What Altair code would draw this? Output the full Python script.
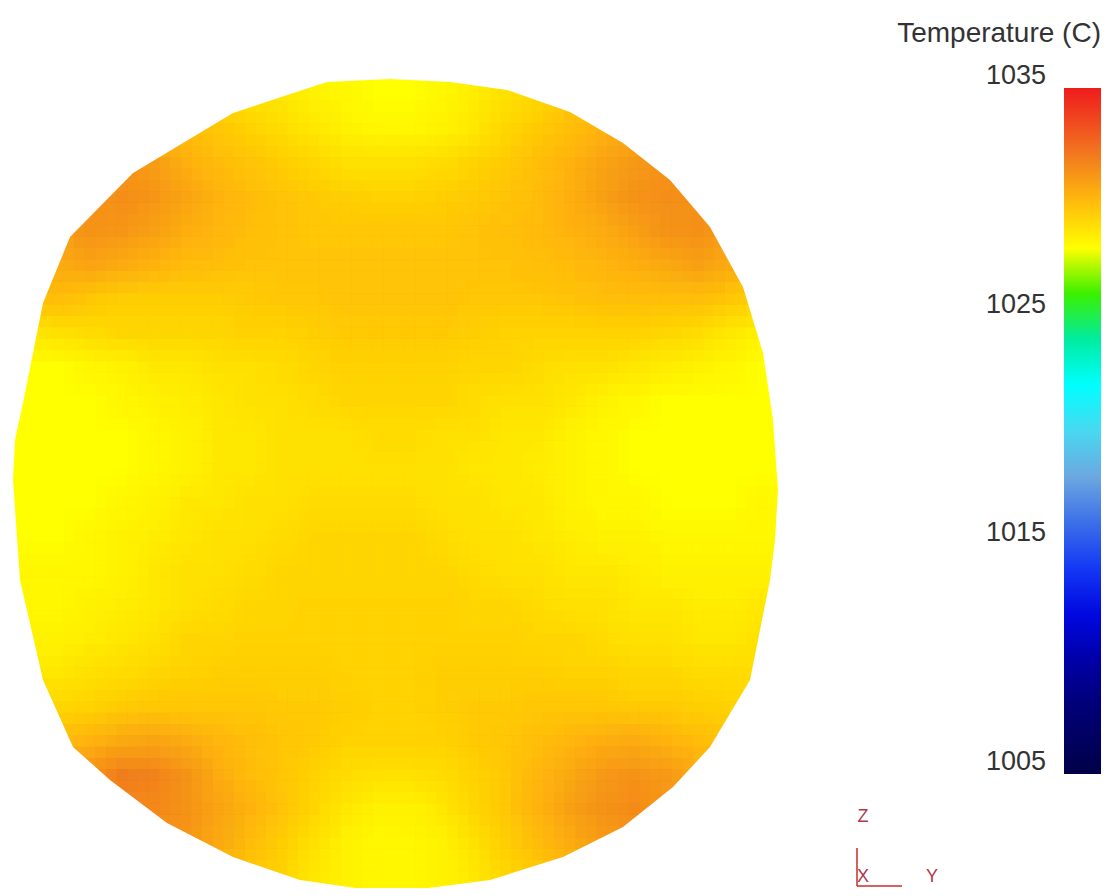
import altair as alt
import pandas as pd

# ---------------- data ----------------
# temperature (deg C) on a 24 x 24 grid covering the disk's bounding box, top row first
temps = [
    [1029.3]*6 + [1029.3, 1029.1, 1029.0, 1028.8, 1028.7, 1028.6, 1028.6, 1028.7, 1028.9, 1029.1, 1029.3, 1029.6] + [1029.6]*6,
    [1029.8]*5 + [1029.9, 1029.7, 1029.4, 1029.2, 1029.0, 1028.8, 1028.7, 1028.7, 1028.8, 1029.0, 1029.3, 1029.6, 1029.9, 1030.2, 1030.5] + [1030.5]*4,
    [1031.0]*3 + [1031.0, 1030.8, 1030.3, 1030.0, 1029.8, 1029.5, 1029.3, 1029.1, 1029.1, 1029.1, 1029.2, 1029.4, 1029.6, 1029.9, 1030.2, 1030.6, 1030.9, 1031.1] + [1031.1]*3,
    [1031.1]*2 + [1031.1, 1031.3, 1031.0, 1030.6, 1030.2, 1030.0, 1029.8, 1029.6, 1029.5, 1029.4, 1029.4, 1029.5, 1029.6, 1029.8, 1030.0, 1030.3, 1030.7, 1031.1, 1031.3, 1031.2] + [1031.2]*2,
    [1030.8, 1030.8, 1031.1, 1031.0, 1030.7, 1030.3, 1030.1, 1029.9, 1029.8, 1029.7, 1029.7, 1029.7, 1029.7, 1029.7, 1029.8, 1029.9, 1030.0, 1030.2, 1030.4, 1030.7, 1031.1, 1031.2, 1030.8, 1030.8],
    [1030.2, 1030.4, 1030.6, 1030.4, 1030.2, 1030.0, 1029.9, 1029.8, 1029.8, 1029.8, 1029.8, 1029.8, 1029.8, 1029.8, 1029.8, 1029.8, 1029.9, 1030.0, 1030.1, 1030.3, 1030.5, 1030.7, 1030.4, 1030.2],
    [1029.9, 1029.9, 1029.7, 1029.5, 1029.5, 1029.5, 1029.5, 1029.6, 1029.7, 1029.7, 1029.8, 1029.8, 1029.8, 1029.8, 1029.7, 1029.7, 1029.7, 1029.8, 1029.9, 1029.9, 1029.9, 1029.9, 1029.7, 1029.4],
    [1029.0, 1029.1, 1029.2, 1029.3, 1029.3, 1029.3, 1029.3, 1029.4, 1029.4, 1029.5, 1029.6, 1029.6, 1029.6, 1029.6, 1029.5, 1029.4, 1029.4, 1029.4, 1029.4, 1029.4, 1029.3, 1029.2, 1029.0, 1028.8],
    [1028.6, 1028.6, 1028.7, 1028.8, 1029.0, 1029.0, 1029.1, 1029.1, 1029.2, 1029.3, 1029.4, 1029.4, 1029.4, 1029.4, 1029.3, 1029.3, 1029.2, 1029.1, 1029.1, 1029.0, 1028.9, 1028.8, 1028.7, 1028.6],
    [1028.5, 1028.5, 1028.6, 1028.7, 1028.8, 1028.9, 1029.0, 1029.1, 1029.1, 1029.2, 1029.3, 1029.3, 1029.3, 1029.3, 1029.2, 1029.1, 1029.1, 1029.0, 1028.8, 1028.7, 1028.6, 1028.5, 1028.5, 1028.5],
    [1028.5, 1028.5, 1028.5, 1028.6, 1028.7, 1028.8, 1029.0, 1029.0, 1029.1, 1029.1, 1029.1, 1029.2, 1029.2, 1029.1, 1029.1, 1029.0, 1029.0, 1028.8, 1028.7, 1028.6, 1028.5, 1028.5, 1028.5, 1028.5],
    [1028.5, 1028.5, 1028.5, 1028.6, 1028.7, 1028.8, 1029.0, 1029.0, 1029.1, 1029.1, 1029.1, 1029.1, 1029.1, 1029.1, 1029.0, 1029.0, 1028.9, 1028.8, 1028.7, 1028.6, 1028.5, 1028.5, 1028.5, 1028.6],
    [1028.5, 1028.5, 1028.6, 1028.7, 1028.8, 1029.0, 1029.0, 1029.1, 1029.1, 1029.2, 1029.2, 1029.2, 1029.2, 1029.1, 1029.1, 1029.0, 1029.0, 1028.8, 1028.7, 1028.7, 1028.6, 1028.6, 1028.6, 1028.7],
    [1028.6, 1028.6, 1028.7, 1028.8, 1028.9, 1029.0, 1029.1, 1029.1, 1029.2, 1029.3, 1029.3, 1029.3, 1029.3, 1029.2, 1029.1, 1029.1, 1029.0, 1028.9, 1028.8, 1028.8, 1028.7, 1028.7, 1028.7, 1028.7],
    [1028.7, 1028.7, 1028.7, 1028.8, 1029.0, 1029.1, 1029.1, 1029.2, 1029.3, 1029.3, 1029.3, 1029.3, 1029.3, 1029.3, 1029.2, 1029.1, 1029.1, 1029.0, 1029.0, 1028.9, 1028.8, 1028.8, 1028.8, 1028.8],
    [1028.7, 1028.7, 1028.8, 1028.9, 1029.0, 1029.1, 1029.2, 1029.3, 1029.3, 1029.4, 1029.4, 1029.4, 1029.4, 1029.4, 1029.3, 1029.3, 1029.2, 1029.1, 1029.1, 1029.0, 1029.0, 1028.9, 1028.9, 1029.0],
    [1028.8, 1028.8, 1028.9, 1029.0, 1029.1, 1029.3, 1029.3, 1029.4, 1029.4, 1029.4, 1029.4, 1029.4, 1029.4, 1029.4, 1029.4, 1029.4, 1029.3, 1029.3, 1029.2, 1029.1, 1029.1, 1029.0, 1029.0, 1029.1],
    [1029.0, 1029.0, 1029.1, 1029.2, 1029.3, 1029.4, 1029.5, 1029.5, 1029.5, 1029.5, 1029.4, 1029.4, 1029.4, 1029.5, 1029.5, 1029.5, 1029.5, 1029.4, 1029.4, 1029.3, 1029.3, 1029.2, 1029.2, 1029.2],
    [1029.3, 1029.3, 1029.4, 1029.6, 1029.7, 1029.7, 1029.7, 1029.7, 1029.6, 1029.6, 1029.5, 1029.4, 1029.4, 1029.5, 1029.6, 1029.6, 1029.7, 1029.7, 1029.7, 1029.6, 1029.6, 1029.5, 1029.4, 1029.4],
    [1030.0, 1030.0, 1030.2, 1030.5, 1030.6, 1030.4, 1030.1, 1029.9, 1029.7, 1029.6, 1029.4, 1029.4, 1029.4, 1029.4, 1029.6, 1029.7, 1029.9, 1030.1, 1030.3, 1030.4, 1030.2, 1030.0, 1029.8, 1029.8],
    [1031.2, 1031.2, 1031.2, 1031.9, 1031.7, 1031.1, 1030.4, 1030.0, 1029.7, 1029.4, 1029.2, 1029.1, 1029.1, 1029.2, 1029.4, 1029.7, 1030.1, 1030.5, 1030.9, 1031.1, 1030.9, 1030.4, 1030.4, 1030.4],
    [1031.6]*3 + [1031.6, 1031.5, 1031.1, 1030.6, 1030.2, 1029.8, 1029.3, 1029.0, 1028.8, 1028.8, 1029.0, 1029.3, 1029.7, 1030.2, 1030.7, 1031.1, 1031.4, 1031.0] + [1031.0]*3,
    [1031.1]*4 + [1031.1, 1031.0, 1030.5, 1030.0, 1029.5, 1029.1, 1028.8, 1028.7, 1028.7, 1028.8, 1029.1, 1029.5, 1030.0, 1030.4, 1030.8, 1030.9] + [1030.9]*4,
    [1030.0]*6 + [1030.0, 1029.7, 1029.4, 1029.0, 1028.8, 1028.7, 1028.7, 1028.8, 1029.0, 1029.3, 1029.6, 1029.9] + [1029.9]*6,
]

# colour bar: temperature stops and their colours
color_stops = [1005, 1008, 1010, 1012, 1014, 1016, 1018, 1020, 1022, 1024, 1025.5,
               1027, 1028, 1028.6, 1029.3, 1030.2, 1031.0, 1032.3, 1033.8, 1035]
color_hex = ["#000048", "#000078", "#0000a8", "#0008e0", "#1438f4", "#3c70e8", "#6ca8e0",
             "#48d8f0", "#00ffff", "#00eca0", "#00f000", "#b0f000", "#ffff00", "#ffff00",
             "#ffd800", "#ffb410", "#f89818", "#f07420", "#f04020", "#ee1c1c"]
legend_ticks = [1005, 1015, 1025, 1035]
legend_title = "Temperature (C)"
triad_labels = ["Z", "X", "Y"]

# ---------------- layout (pixels) ----------------
W, H = 1094, 880
GRID_LEFT, CELL_W = 2, 32
GRID_TOP, CELL_H = 70, 34
BAR_X, BAR_Y, BAR_LEN, BAR_W = 1056, 80, 686, 37
FONT = "Liberation Sans"
TXT = "#333333"

# outline of the disk (page pixels, clockwise from top) used for a white mask
outline = [(390, 79), (450, 82), (507, 90), (570, 112), (623, 143), (670, 180), (710, 227),
           (743, 287), (763, 353), (773, 420), (778, 490), (775, 540), (770, 580), (760, 630),
           (750, 680), (710, 747), (673, 787), (623, 827), (563, 857), (490, 880), (390, 893),
           (300, 880), (233, 857), (167, 823), (110, 780), (73, 747), (43, 680), (20, 580),
           (13, 480), (15, 440), (23, 403), (43, 303), (70, 237), (133, 173), (233, 113), (327, 82)]
CX, CY, UNIT = 394, 486, 500.0
inner = list(reversed(outline))
hole = "M" + "L".join(f"{(px - CX) / UNIT:.4f},{(py - CY) / UNIT:.4f}" for px, py in inner) + "Z"
mask_path = "M-1,-1L0.9,-1L0.9,1L-1,1Z" + hole

recs = []
for r, row in enumerate(temps):
    for c, v in enumerate(row):
        recs.append({"c0": c, "c1": c + 1, "r0": r, "r1": r + 1, "t": v})
df = pd.DataFrame(recs)

xs = alt.Scale(domain=[-GRID_LEFT / CELL_W, (W - GRID_LEFT) / CELL_W], nice=False, zero=False)
ys = alt.Scale(domain=[-GRID_TOP / CELL_H, (H - GRID_TOP) / CELL_H], nice=False, zero=False, reverse=True)

color = alt.Color(
    "t:Q",
    scale=alt.Scale(domain=color_stops, range=color_hex, interpolate="rgb"),
    legend=alt.Legend(
        title=None, orient="none", legendX=BAR_X, legendY=BAR_Y, direction="vertical",
        gradientLength=BAR_LEN, gradientThickness=BAR_W, gradientStrokeWidth=0,
        values=legend_ticks, labelExpr="''", labelFontSize=1,
    ),
)

# the grid is drawn as 9 slightly offset copies, blended, so the field looks smooth
offsets = [(0, 0), (1 / 3, 0), (-1 / 3, 0), (0, 1 / 3), (0, -1 / 3),
           (1 / 3, 1 / 3), (-1 / 3, -1 / 3), (1 / 3, -1 / 3), (-1 / 3, 1 / 3)]
heat_layers = []
for k, (dx, dy) in enumerate(offsets, start=1):
    heat_layers.append(
        alt.Chart(df)
        .transform_calculate(
            xa=f"datum.c0 + {dx}", xb=f"datum.c1 + {dx}",
            ya=f"datum.r0 + {dy}", yb=f"datum.r1 + {dy}",
        )
        .mark_rect(strokeWidth=0, opacity=1.0 / k)
        .encode(
            x=alt.X("xa:Q", scale=xs, axis=None),
            x2="xb:Q",
            y=alt.Y("ya:Q", scale=ys, axis=None),
            y2="yb:Q",
            color=color,
        )
    )

mask = alt.Chart(pd.DataFrame({"c": [12], "r": [12]})).mark_point(
    shape=mask_path, filled=True, color="white", strokeWidth=0, size=1000000, opacity=1
).encode(
    x=alt.X("c:Q", scale=xs, axis=None),
    y=alt.Y("r:Q", scale=ys, axis=None),
)

# colour-bar tick labels, placed through a scale that matches the bar
deg_px = BAR_LEN / 30.0
lab_scale = alt.Scale(domain=[1005 - (H - BAR_Y - BAR_LEN) / deg_px, 1035 + BAR_Y / deg_px],
                      nice=False, zero=False)
labels = alt.Chart(pd.DataFrame({"v": legend_ticks})).mark_text(
    align="right", baseline="alphabetic", dy=-4, fontSize=27, font=FONT, color=TXT
).encode(
    x=alt.value(BAR_X - 18),
    y=alt.Y("v:Q", scale=lab_scale, axis=None),
    text=alt.Text("v:Q", format="d"),
)

title = alt.Chart(pd.DataFrame({"s": [legend_title]})).mark_text(
    align="right", baseline="alphabetic", fontSize=28, font=FONT, color=TXT
).encode(x=alt.value(BAR_X + BAR_W), y=alt.value(34), text="s:N")

one = pd.DataFrame({"a": [0]})
rule_v = alt.Chart(one).mark_rule(color="#cc2b2b", strokeWidth=1.5).encode(
    x=alt.value(849), y=alt.value(840), y2=alt.value(878))
rule_h = alt.Chart(one).mark_rule(color="#cc2b2b", strokeWidth=1.5).encode(
    x=alt.value(849), x2=alt.value(894), y=alt.value(878))

tri_df = pd.DataFrame({"s": triad_labels, "px": [855, 855, 924], "py": [809, 869, 869]})
tri = alt.Chart(tri_df).mark_text(
    fontSize=18, font=FONT, color="#b03a48", align="center", baseline="middle"
).encode(
    x=alt.X("px:Q", scale=alt.Scale(domain=[0, W], nice=False, zero=False), axis=None),
    y=alt.Y("py:Q", scale=alt.Scale(domain=[0, H], nice=False, zero=False, reverse=True), axis=None),
    text="s:N",
)

chart = (
    alt.layer(*heat_layers, mask, labels, title, rule_v, rule_h, tri)
    .resolve_scale(x="independent", y="independent")
    .properties(width=W, height=H, padding=0, autosize=alt.AutoSizeParams(type="none"), background="white")
    .configure_view(stroke=None)
)

chart.save("out.html", embed_options={"renderer": "svg", "actions": False})
